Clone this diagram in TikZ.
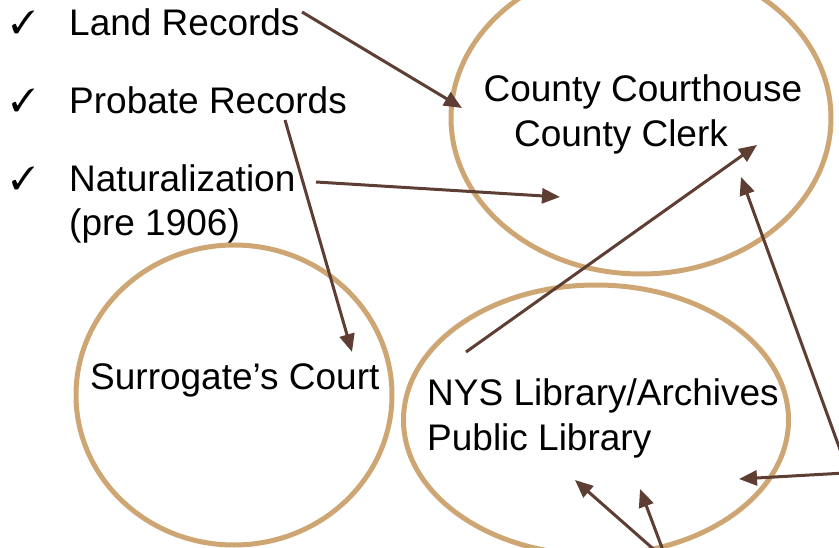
\documentclass[tikz,border=0pt]{standalone}
\usepackage{fontspec}
\usepackage{pifont}
\setmainfont{Liberation Sans}
\usetikzlibrary{shapes.geometric,arrows.meta}
\definecolor{ringtan}{RGB}{205,166,115}
\definecolor{arrbrown}{RGB}{94,62,50}
\tikzset{
  ring/.style={ellipse, draw=ringtan, line width=5pt, inner sep=0pt},
  lbl/.style={anchor=base west, inner sep=0pt, font=\fontsize{37}{44}\selectfont},
  tick/.style={anchor=base west, inner sep=0pt, font=\fontsize{32}{36}\selectfont},
  link/.style={draw=arrbrown, line width=3pt, -{Triangle[length=18pt,width=15pt]}, arrbrown}
}
\begin{document}
\begin{tikzpicture}[x=1pt,y=-1pt]
\useasboundingbox (0,0) rectangle (839,548);
\clip (0,0) rectangle (839,548);
% ellipses
\node[ring, minimum width=380pt, minimum height=312pt] (county) at (641,118) {};
\node[ring, minimum width=316pt, minimum height=300pt] (surr) at (234,395) {};
\node[ring, minimum width=385pt, minimum height=270pt] (nys) at (596,420) {};
% check marks and list
\node[tick] (t1) at (11,34) {\ding{51}};
\node[tick] (t2) at (11,112) {\ding{51}};
\node[tick] (t3) at (11,190) {\ding{51}};
\node[lbl] (land) at (69,36) {Land Records};
\node[lbl] (prob) at (69,114) {Probate Records};
\node[lbl] (nat1) at (69,192) {Naturalization};
\node[lbl] (nat2) at (69,236) {(pre 1906)};
% ellipse texts
\node[lbl, anchor=base] (cc1) at (643,102) {County Courthouse};
\node[lbl, anchor=base] (cc2) at (621,147) {County Clerk};
\node[lbl] (sc) at (90,390) {Surrogate’s Court};
\node[lbl] (ny1) at (427,406) {NYS Library/Archives};
\node[lbl] (ny2) at (427,450) {Public Library};
% connector ends
\coordinate (landS) at (302,12);   \coordinate (landT) at (462,108);
\coordinate (probS) at (285,120);  \coordinate (probT) at (352,352);
\coordinate (natS) at (316,182);   \coordinate (natT) at (560,197);
\coordinate (nysS) at (466,352);   \coordinate (nysT) at (757,145);
\coordinate (rS) at (846,466);     \coordinate (rT) at (741,177);
\coordinate (hS) at (845,473);     \coordinate (hT) at (739,479);
\coordinate (bS) at (667,561);
\coordinate (b1T) at (575,480);    \coordinate (b2T) at (640,489);
\draw[link] (landS) -- (landT);
\draw[link] (probS) -- (probT);
\draw[link] (natS) -- (natT);
\draw[link] (nysS) -- (nysT);
\draw[link] (rS) -- (rT);
\draw[link] (hS) -- (hT);
\draw[link] (bS) -- (b1T);
\draw[link] (bS) -- (b2T);
\end{tikzpicture}
\end{document}
